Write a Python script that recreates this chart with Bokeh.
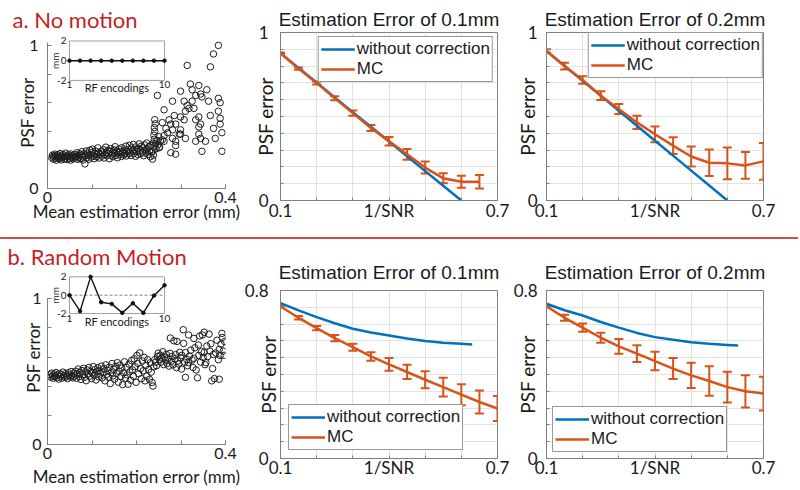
from math import pi
from bokeh.plotting import figure
from bokeh.layouts import column, row
from bokeh.models import (ColumnDataSource, Range1d, FixedTicker, Whisker, TeeHead,
                          Legend, LegendItem, NumeralTickFormatter, Div)
from bokeh.embed import file_html
from bokeh.resources import INLINE
from bokeh.core.properties import value

# ------------------------------------------------------------------ data
# panel a scatter: (mean estimation error [mm], PSF error)
SCAT_A = [
    (0.010,0.215),(0.011,0.232),(0.013,0.205),(0.014,0.224),(0.016,0.240),(0.017,0.212),(0.019,0.228),
    (0.020,0.198),(0.022,0.219),(0.023,0.236),(0.025,0.208),(0.026,0.226),(0.028,0.244),(0.029,0.214),
    (0.031,0.200),(0.032,0.230),(0.034,0.218),(0.035,0.238),(0.037,0.206),(0.038,0.224),(0.040,0.212),
    (0.041,0.247),(0.043,0.228),(0.044,0.202),(0.046,0.221),(0.047,0.236),(0.049,0.210),(0.050,0.226),
    (0.052,0.198),(0.053,0.241),(0.055,0.216),(0.056,0.230),(0.058,0.207),(0.059,0.222),
    (0.061,0.238),(0.063,0.212),(0.064,0.226),(0.066,0.250),(0.068,0.204),(0.069,0.231),(0.071,0.218),
    (0.072,0.243),(0.074,0.209),(0.076,0.234),(0.077,0.257),(0.079,0.221),(0.080,0.199),(0.082,0.241),
    (0.084,0.172),(0.085,0.228),(0.087,0.262),(0.088,0.214),(0.090,0.246),(0.092,0.231),(0.093,0.205),
    (0.095,0.268),(0.096,0.238),(0.098,0.219),(0.100,0.252),(0.101,0.275),(0.103,0.228),(0.105,0.208),
    (0.106,0.244),(0.108,0.262),(0.110,0.221),(0.111,0.236),(0.113,0.284),(0.115,0.250),(0.116,0.213),
    (0.118,0.239),
    (0.121,0.262),(0.122,0.226),(0.124,0.248),(0.126,0.271),(0.127,0.213),(0.129,0.238),(0.131,0.289),
    (0.132,0.254),(0.134,0.228),(0.136,0.266),(0.137,0.243),(0.139,0.208),(0.141,0.259),(0.142,0.279),
    (0.144,0.233),(0.146,0.251),(0.147,0.222),(0.149,0.270),(0.151,0.246),(0.152,0.292),(0.154,0.231),
    (0.156,0.262),(0.157,0.215),(0.159,0.249),(0.161,0.276),(0.162,0.238),(0.164,0.258),(0.166,0.224),
    (0.167,0.285),(0.169,0.252),(0.171,0.233),(0.172,0.268),(0.174,0.244),(0.176,0.296),(0.177,0.227),
    (0.179,0.259),
    (0.181,0.274),(0.183,0.242),(0.184,0.302),(0.186,0.256),(0.188,0.231),(0.189,0.283),(0.191,0.262),
    (0.193,0.308),(0.194,0.246),(0.196,0.272),(0.198,0.225),(0.199,0.291),(0.201,0.258),(0.203,0.237),
    (0.204,0.279),(0.206,0.312),(0.208,0.265),(0.209,0.243),(0.211,0.296),(0.213,0.252),(0.214,0.284),
    (0.216,0.229),(0.218,0.305),(0.219,0.268),(0.221,0.247),(0.223,0.318),(0.224,0.276),(0.226,0.238),
    (0.228,0.293),(0.229,0.261),(0.231,0.222),(0.232,0.301),(0.234,0.254),
    (0.236,0.205),(0.238,0.232),(0.237,0.262),(0.239,0.291),(0.238,0.318),(0.240,0.344),(0.239,0.372),
    (0.241,0.398),(0.240,0.425),(0.242,0.452),(0.241,0.481),(0.243,0.312),(0.244,0.278),(0.246,0.336),
    (0.248,0.305),(0.250,0.362),(0.252,0.289),(0.254,0.331),
    (0.384,1.000),(0.373,0.940),(0.366,0.850),(0.314,0.860),(0.321,0.730),(0.340,0.720),(0.299,0.680),
    (0.325,0.690),(0.333,0.650),(0.344,0.660),(0.358,0.690),(0.347,0.640),(0.247,0.650),(0.262,0.550),
    (0.281,0.610),(0.307,0.610),(0.314,0.580),(0.318,0.560),(0.310,0.540),(0.384,0.630),(0.388,0.600),
    (0.362,0.610),(0.366,0.510),(0.384,0.540),(0.388,0.490),(0.388,0.450),(0.340,0.500),(0.333,0.480),
    (0.340,0.430),(0.344,0.450),(0.373,0.420),(0.392,0.390),(0.377,0.350),(0.392,0.260),(0.340,0.380),
    (0.344,0.350),(0.333,0.330),(0.288,0.240),(0.281,0.350),(0.288,0.330),(0.299,0.500),(0.285,0.510),
    (0.273,0.480),(0.277,0.450),(0.288,0.450),(0.281,0.410),(0.299,0.410),(0.270,0.390),(0.262,0.370),
    (0.266,0.420),(0.258,0.340),(0.299,0.380),(0.307,0.480),(0.325,0.610),(0.329,0.560),(0.258,0.460),
    (0.251,0.285),(0.262,0.330),(0.277,0.250),(0.288,0.300),(0.310,0.350),(0.296,0.380),(0.347,0.260),
    (0.355,0.330),
]

# panel b scatter
SCAT_B = [
    (0.005,0.478),(0.007,0.462),(0.009,0.490),(0.011,0.470),(0.013,0.455),(0.015,0.484),(0.017,0.466),
    (0.019,0.494),(0.021,0.458),(0.023,0.476),(0.025,0.449),(0.027,0.488),(0.029,0.468),(0.031,0.480),
    (0.033,0.456),(0.035,0.497),(0.037,0.472),(0.039,0.461),(0.041,0.486),(0.043,0.469),(0.045,0.452),
    (0.047,0.492),(0.049,0.477),(0.051,0.463),(0.053,0.501),(0.055,0.474),(0.057,0.458),(0.059,0.489),
    (0.061,0.471),(0.063,0.503),(0.065,0.455),(0.067,0.487),(0.069,0.518),(0.071,0.466),(0.073,0.494),
    (0.075,0.447),(0.077,0.508),(0.079,0.479),(0.081,0.523),(0.083,0.461),(0.085,0.497),(0.087,0.438),
    (0.089,0.512),(0.091,0.484),(0.093,0.529),(0.095,0.469),(0.097,0.502),(0.099,0.452),(0.101,0.491),
    (0.103,0.535),(0.105,0.476),(0.107,0.514),(0.109,0.443),(0.111,0.498),(0.113,0.527),(0.115,0.465),
    (0.117,0.507),(0.119,0.484),
    (0.121,0.538),(0.123,0.458),(0.125,0.496),(0.127,0.521),(0.129,0.437),(0.131,0.547),(0.133,0.482),
    (0.135,0.509),(0.137,0.462),(0.139,0.531),(0.141,0.418),(0.143,0.494),(0.145,0.556),(0.147,0.471),
    (0.149,0.516),(0.151,0.449),(0.153,0.537),(0.155,0.488),(0.157,0.562),(0.159,0.428),(0.161,0.503),
    (0.163,0.545),(0.165,0.467),(0.167,0.524),(0.169,0.411),(0.171,0.492),(0.173,0.568),(0.175,0.456),
    (0.177,0.531),(0.179,0.478),(0.181,0.414),(0.183,0.552),(0.185,0.499),(0.187,0.441),(0.189,0.576),
    (0.191,0.512),(0.193,0.468),(0.195,0.588),(0.197,0.534),(0.199,0.427),(0.201,0.612),(0.203,0.557),
    (0.205,0.486),(0.207,0.629),(0.209,0.521),(0.211,0.452),(0.213,0.574),(0.215,0.506),(0.217,0.598),
    (0.219,0.437),(0.221,0.543),(0.223,0.469),(0.225,0.582),(0.227,0.515),(0.229,0.448),(0.231,0.561),
    (0.233,0.497),(0.235,0.426),(0.237,0.401),(0.239,0.533),(0.241,0.582),(0.243,0.565),(0.245,0.541),
    (0.247,0.604),(0.249,0.627),
    (0.251,0.583),(0.253,0.612),(0.255,0.566),(0.257,0.594),(0.259,0.637),(0.261,0.548),(0.263,0.601),
    (0.265,0.578),(0.267,0.619),(0.269,0.556),(0.271,0.592),(0.273,0.538),(0.275,0.626),(0.276,0.731),
    (0.278,0.571),(0.280,0.604),(0.282,0.547),(0.284,0.712),(0.286,0.589),(0.288,0.617),(0.290,0.528),
    (0.291,0.708),(0.293,0.574),(0.295,0.552),(0.297,0.633),(0.299,0.596),(0.301,0.518),(0.302,0.612),
    (0.305,0.788),(0.306,0.694),(0.308,0.565),(0.310,0.461),(0.310,0.631),(0.313,0.583),(0.315,0.541),
    (0.317,0.752),(0.317,0.562),(0.319,0.607),
    (0.322,0.648),(0.325,0.581),(0.327,0.529),(0.329,0.728),(0.329,0.592),(0.331,0.664),(0.334,0.512),
    (0.337,0.458),(0.339,0.683),(0.340,0.612),(0.342,0.745),(0.344,0.566),(0.346,0.638),(0.348,0.752),
    (0.350,0.597),(0.352,0.771),(0.352,0.632),(0.354,0.548),(0.356,0.562),(0.358,0.676),(0.360,0.604),
    (0.363,0.758),(0.365,0.641),(0.367,0.692),(0.369,0.437),(0.371,0.521),(0.373,0.618),(0.375,0.452),
    (0.378,0.628),(0.381,0.716),(0.384,0.582),(0.386,0.653),(0.386,0.448),(0.388,0.611),(0.390,0.689),
    (0.392,0.763),(0.393,0.735),(0.395,0.641),(0.397,0.612),(0.398,0.707),
]

# insets: motion per RF encoding (mm)
INSET_X = [1, 2, 3, 4, 5, 6, 7, 8, 9, 10]
INSET_A = [0, 0, 0, 0, 0, 0, 0, 0, 0, 0]
INSET_B = [0.0, -1.75, 2.0, -0.77, -0.95, -1.93, -0.88, -1.93, -0.05, 1.08]
INSET_YLIM = [-2, 2]
INSET_YTICKS = [2, 0, -2]
INSET_YLABELS = ["2", "0", "-2"]
INSET_XLABELS = ["1", "10"]

# line panels
LINE_XTICKS = [0.1, 0.2, 0.3, 0.4, 0.5, 0.6, 0.7]
YTICKS_A = [0.0, 0.1, 0.2, 0.3, 0.4, 0.5, 0.6, 0.7, 0.8, 0.9, 1.0]
YTICKS_B = [0.0, 0.08, 0.16, 0.24, 0.32, 0.40, 0.48, 0.56, 0.64, 0.72, 0.80]

X_MC_12 = [0.1, 0.15, 0.2, 0.25, 0.3, 0.35, 0.4, 0.45, 0.5, 0.55, 0.6, 0.65]
X_MC_13 = [0.1, 0.15, 0.2, 0.25, 0.3, 0.35, 0.4, 0.45, 0.5, 0.55, 0.6, 0.65, 0.7]
X_BLUE_A = [0.1, 0.15, 0.2, 0.25, 0.3, 0.35, 0.4, 0.45, 0.5, 0.55, 0.6]
X_BLUE_B = [0.1, 0.15, 0.2, 0.25, 0.3, 0.35, 0.4, 0.45, 0.5, 0.55, 0.6, 0.63]

# a, 0.1 mm
BLUE_A1 = [0.877, 0.789, 0.702, 0.614, 0.526, 0.439, 0.351, 0.263, 0.175, 0.088, 0.0]
MC_A1 = [0.877, 0.785, 0.700, 0.608, 0.520, 0.432, 0.353, 0.275, 0.196, 0.132, 0.112, 0.112]
ERR_A1 = [0.004, 0.007, 0.009, 0.012, 0.015, 0.018, 0.025, 0.032, 0.036, 0.030, 0.036, 0.040]
# a, 0.2 mm
BLUE_A2 = [0.890, 0.801, 0.712, 0.623, 0.534, 0.445, 0.356, 0.267, 0.178, 0.089, 0.0]
MC_A2 = [0.890, 0.800, 0.717, 0.624, 0.545, 0.465, 0.394, 0.327, 0.262, 0.225, 0.221, 0.209, 0.233]
ERR_A2 = [0.010, 0.020, 0.022, 0.026, 0.030, 0.040, 0.047, 0.050, 0.060, 0.079, 0.094, 0.079, 0.109]
# b, 0.1 mm
BLUE_B1 = [0.740, 0.705, 0.673, 0.644, 0.618, 0.600, 0.586, 0.571, 0.559, 0.551, 0.546, 0.543]
MC_B1 = [0.724, 0.670, 0.621, 0.573, 0.530, 0.486, 0.448, 0.412, 0.375, 0.340, 0.304, 0.269, 0.238]
ERR_B1 = [0.005, 0.008, 0.010, 0.015, 0.017, 0.020, 0.030, 0.034, 0.040, 0.045, 0.050, 0.055, 0.060]
# b, 0.2 mm
BLUE_B2 = [0.737, 0.706, 0.681, 0.650, 0.623, 0.598, 0.578, 0.565, 0.554, 0.546, 0.541, 0.538]
MC_B2 = [0.725, 0.670, 0.623, 0.575, 0.534, 0.499, 0.464, 0.428, 0.396, 0.369, 0.340, 0.320, 0.309]
ERR_B2 = [0.005, 0.014, 0.020, 0.024, 0.035, 0.040, 0.044, 0.050, 0.060, 0.070, 0.073, 0.077, 0.080]

# ------------------------------------------------------------------ style
BLUE = "#0072BD"
ORANGE = "#D95319"
RED = "#C41E24"
SEP_RED = "#C8504E"
AXIS_GRAY = "#808080"
GRID_GRAY = "#E2E2E2"
TEXT = "#1A1A1A"
CAL = "Lato"
ARIAL = "Liberation Sans"


def style_axis(ax, tick_len=4, label_size="16px"):
    ax.axis_line_color = AXIS_GRAY
    ax.major_tick_line_color = AXIS_GRAY
    ax.minor_tick_line_color = AXIS_GRAY
    ax.major_tick_in = tick_len
    ax.major_tick_out = 0
    ax.minor_tick_in = tick_len
    ax.minor_tick_out = 0
    ax.major_label_text_font = CAL
    ax.major_label_text_font_size = label_size
    ax.major_label_text_color = TEXT
    ax.axis_label_text_font = CAL
    ax.axis_label_text_font_style = "normal"
    ax.axis_label_text_color = TEXT
    ax.formatter = NumeralTickFormatter(format="0.[0]")


def scatter_panel(title_text, title_offset, title_standoff, pts, iy,
                  W, H, fl, fw, ftop, fbot, y_one_px, y_bound, ibox,
                  ytick_standoff, ylab_standoff, xlab_standoff):
    ppu = fbot - y_one_px
    y_end = (fbot - ftop) / ppu
    p = figure(width=W, height=H, x_range=Range1d(0, 0.4), y_range=Range1d(0, y_end),
               toolbar_location=None, output_backend="svg",
               min_border_left=fl, min_border_right=W - fl - fw,
               min_border_top=ftop, min_border_bottom=H - fbot)
    p.outline_line_color = None
    p.xgrid.visible = False
    p.ygrid.visible = False
    p.title.text = title_text
    p.title.text_font = CAL
    p.title.text_font_size = "22px"
    p.title.text_font_style = "normal"
    p.title.text_color = RED
    p.title.align = "left"
    p.title.offset = title_offset
    p.title.standoff = title_standoff

    xa = p.xaxis[0]
    style_axis(xa)
    xa.ticker = FixedTicker(ticks=[0, 0.4], minor_ticks=[0, 0.1, 0.2, 0.3, 0.4])
    xa.bounds = (0, 0.4)
    xa.major_label_standoff = 3
    xa.axis_label = "Mean estimation error (mm)"
    xa.axis_label_text_font_size = "17px"
    xa.axis_label_standoff = xlab_standoff

    ya = p.yaxis[0]
    style_axis(ya)
    ya.ticker = FixedTicker(ticks=[0, 1], minor_ticks=[0, 0.2, 0.4, 0.6, 0.8, 1.0])
    ya.bounds = (0, y_bound)
    ya.major_label_standoff = ytick_standoff
    ya.axis_label = "PSF error"
    ya.axis_label_text_font_size = "17px"
    ya.axis_label_standoff = ylab_standoff

    xs = [q[0] for q in pts]
    ys = [q[1] for q in pts]
    p.scatter(xs, ys, size=6.5, marker="circle", fill_color=None,
              line_color="#1E1E1E", line_width=1)

    # inset mapped into the frame through its own ranges
    ix0, ix1, iyt, iyb = ibox
    kx = (ix1 - ix0) / (INSET_X[-1] - INSET_X[0])
    x_s = INSET_X[0] - (ix0 - fl) / kx
    x_e = INSET_X[-1] + (fl + fw - ix1) / kx
    ky = (iyb - iyt) / (INSET_YLIM[1] - INSET_YLIM[0])
    y_s = INSET_YLIM[0] - (fbot - iyb) / ky
    y_e = INSET_YLIM[1] + (iyt - ftop) / ky
    p.extra_x_ranges = {"ix": Range1d(x_s, x_e)}
    p.extra_y_ranges = {"iy": Range1d(y_s, y_e)}
    kw = dict(x_range_name="ix", y_range_name="iy")
    p.quad(left=[INSET_X[0]], right=[INSET_X[-1]], bottom=[INSET_YLIM[0]], top=[INSET_YLIM[1]],
           fill_color="white", line_color="#A0A0A0", line_width=1, **kw)
    p.line([INSET_X[0], INSET_X[-1]], [0, 0], line_dash="3 2", line_color="#808080",
           line_width=1, **kw)
    p.line(INSET_X, iy, line_color="#111111", line_width=1.4, **kw)
    p.scatter(INSET_X, iy, size=3.5, color="#111111", **kw)
    tfont = dict(text_font=value(CAL), text_font_size="10px", text_color=TEXT)
    p.text(x=[INSET_X[0]] * 3, y=INSET_YTICKS, text=INSET_YLABELS, x_offset=-3,
           text_align="right", text_baseline="middle", **tfont, **kw)
    p.text(x=[INSET_X[0], INSET_X[-1]], y=[INSET_YLIM[0]] * 2, text=INSET_XLABELS, y_offset=1,
           text_align="center", text_baseline="top", **tfont, **kw)
    p.text(x=[(INSET_X[0] + INSET_X[-1]) / 2], y=[INSET_YLIM[0]], text=["RF encodings"],
           y_offset=1, text_align="center", text_baseline="top",
           text_font=value(CAL), text_font_size="11px", text_color=TEXT, **kw)
    p.text(x=[INSET_X[0]], y=[0], text=["mm"], angle=pi / 2, x_offset=-15,
           text_align="center", text_baseline="middle", **tfont, **kw)
    return p


def line_panel(title, xm, mc, err, xb, blue, ymax, yticks, W, H, fl, fw, ftop, fbot,
               title_valign, title_standoff, ytick_standoff, ylab_standoff, xtick_standoff,
               legend_loc, legend_margin):
    p = figure(width=W, height=H, x_range=Range1d(0.1, 0.7), y_range=Range1d(0, ymax),
               toolbar_location=None, output_backend="svg",
               min_border_left=fl, min_border_right=W - fl - fw,
               min_border_top=ftop, min_border_bottom=H - fbot)
    p.outline_line_color = AXIS_GRAY
    p.xgrid.ticker = FixedTicker(ticks=LINE_XTICKS)
    p.ygrid.ticker = FixedTicker(ticks=yticks)
    p.grid.grid_line_color = GRID_GRAY
    p.title.text = title
    p.title.text_font = ARIAL
    p.title.text_font_size = "19px"
    p.title.text_font_style = "normal"
    p.title.text_color = TEXT
    p.title.align = "center"
    p.title.vertical_align = title_valign
    p.title.standoff = title_standoff

    xa = p.xaxis[0]
    style_axis(xa, 3, "17px")
    xa.ticker = FixedTicker(ticks=[LINE_XTICKS[0], LINE_XTICKS[-1]], minor_ticks=LINE_XTICKS)
    xa.major_label_standoff = xtick_standoff
    xa.axis_label = "1/SNR"
    xa.axis_label_text_font_size = "17px"
    xa.axis_label_standoff = -20

    ya = p.yaxis[0]
    style_axis(ya, 3, "17px")
    ya.ticker = FixedTicker(ticks=[yticks[0], yticks[-1]], minor_ticks=yticks)
    ya.major_label_standoff = ytick_standoff
    ya.axis_label = "PSF error"
    ya.axis_label_text_font_size = "19px"
    ya.axis_label_standoff = ylab_standoff

    rb = p.line(xb, blue, line_color=BLUE, line_width=2.5)
    src = ColumnDataSource(dict(x=xm, y=mc,
                                upper=[m + e for m, e in zip(mc, err)],
                                lower=[m - e for m, e in zip(mc, err)]))
    ro = p.line("x", "y", source=src, line_color=ORANGE, line_width=2.5)
    w = Whisker(base="x", upper="upper", lower="lower", source=src,
                line_color=ORANGE, line_width=2,
                upper_head=TeeHead(size=9, line_color=ORANGE, line_width=2),
                lower_head=TeeHead(size=9, line_color=ORANGE, line_width=2))
    p.add_layout(w)
    leg = Legend(items=[LegendItem(label="without correction", renderers=[rb]),
                        LegendItem(label="MC", renderers=[ro])],
                 location=legend_loc, margin=legend_margin,
                 label_text_font=ARIAL, label_text_font_size="17px", label_text_color=TEXT,
                 glyph_width=34, glyph_height=16, label_height=16, label_standoff=2,
                 padding=2, spacing=0, border_line_color="#333333", border_line_width=1,
                 background_fill_color="white", background_fill_alpha=1.0)
    p.add_layout(leg)
    return p


# ------------------------------------------------------------------ layout
H_TOP, H_BOT = 237, 250
W_S, W_M, W_R = 240, 269, 289

sa = scatter_panel("a. No motion", -35, 7, SCAT_A, INSET_A,
                   W_S, H_TOP, 47, 178, 34, 188, 43, 1.02, (69, 164, 38.5, 78.5),
                   9, -12, -5)
ma = line_panel("Estimation Error of 0.1mm", X_MC_12, MC_A1, ERR_A1, X_BLUE_A, BLUE_A1,
                1.0, YTICKS_A, W_M, H_TOP, 40, 217, 32, 202, "top", 2, 12, -21, 3,
                "top_right", 4)
ra = line_panel("Estimation Error of 0.2mm", X_MC_13, MC_A2, ERR_A2, X_BLUE_A, BLUE_A2,
                1.0, YTICKS_A, W_R, H_TOP, 37, 217, 32, 200, "top", 2, 9, -14, 3,
                "top_right", 0)

sb = scatter_panel("b. Random Motion", -40, 2, SCAT_B, INSET_B,
                   W_S, H_BOT, 47, 178, 30, 208, 59, 1.0, (69, 164, 36.5, 74),
                   6, -15, 4)
mb = line_panel("Estimation Error of 0.1mm", X_MC_13, MC_B1, ERR_B1, X_BLUE_B, BLUE_B1,
                0.8, YTICKS_B, W_M, H_BOT, 40, 217, 51, 219, "bottom", 16, 12, -38, 2,
                "bottom_left", 8)
rb_ = line_panel("Estimation Error of 0.2mm", X_MC_13, MC_B2, ERR_B2, X_BLUE_B, BLUE_B2,
                 0.8, YTICKS_B, W_R, H_BOT, 37, 217, 51, 219, "bottom", 16, 9, -28, 2,
                 "bottom_left", 6)

sep_left = Div(text="", width=W_S, height=2, margin=0, styles={"background-color": SEP_RED})
sep_right = Div(text="", width=W_M + W_R, height=2, margin=0,
                styles={"background-color": SEP_RED})

left_col = column(sa, sep_left, sb)
right_col = column(row(ma, ra), sep_right, row(mb, rb_))
layout = row(left_col, right_col)

open("out.html", "w").write(file_html(layout, INLINE))
